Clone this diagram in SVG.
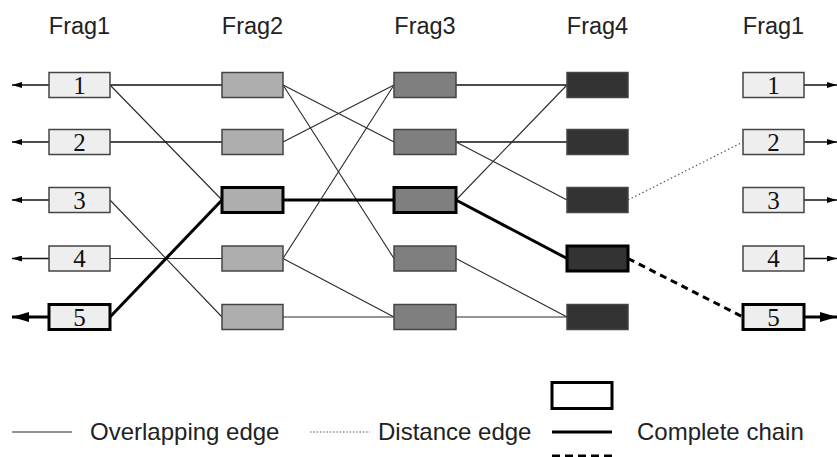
<svg xmlns="http://www.w3.org/2000/svg" width="837" height="457" viewBox="0 0 837 457">
<defs>
<style>
.hdr{font-family:"Liberation Sans",Arial,sans-serif;font-size:23.5px;fill:#222;text-anchor:middle}
.num{font-family:"Liberation Serif","Times New Roman",serif;font-size:25px;fill:#111;text-anchor:middle}
.leg{font-family:"Liberation Sans",Arial,sans-serif;font-size:24px;fill:#222}
.b{stroke:#444;stroke-width:1.5}
.f1{fill:#eeeeee}
.f2{fill:#aeaeae}
.f3{fill:#7f7f7f}
.f4{fill:#333333}
.hl{stroke:#000;stroke-width:3}
.e{stroke:#2a2a2a;stroke-width:1.1;fill:none}
.h{stroke:#111;stroke-width:1.3;fill:none}
.t{stroke:#000;stroke-width:3;fill:none}
.dot{stroke:#555;stroke-width:1.2;stroke-dasharray:1.5,2.5;fill:none}
.dash{stroke:#000;stroke-width:3;stroke-dasharray:7,5;fill:none}
</style>
<marker id="ah" markerWidth="10" markerHeight="6" refX="10" refY="3" orient="auto" markerUnits="userSpaceOnUse"><path d="M0,0 L10,3 L0,6 Z" fill="#000"/></marker>
<marker id="ahT" markerWidth="17" markerHeight="10" refX="17" refY="5" orient="auto" markerUnits="userSpaceOnUse"><path d="M0,0 L17,5 L0,10 Z" fill="#000"/></marker>
</defs>
<rect width="837" height="457" fill="#fff"/>

<g id="headers">
<text class="hdr" x="79.5" y="34">Frag1</text>
<text class="hdr" x="252.5" y="34">Frag2</text>
<text class="hdr" x="425" y="34">Frag3</text>
<text class="hdr" x="597.5" y="34">Frag4</text>
<text class="hdr" x="773.5" y="34">Frag1</text>
</g>

<g id="connectors">
<line class="h" x1="49" y1="85" x2="12" y2="85" marker-end="url(#ah)"/>
<line class="h" x1="49" y1="142" x2="12" y2="142" marker-end="url(#ah)"/>
<line class="h" x1="49" y1="200" x2="12" y2="200" marker-end="url(#ah)"/>
<line class="h" x1="49" y1="258.5" x2="12" y2="258.5" marker-end="url(#ah)"/>
<line class="t" x1="49" y1="317" x2="12" y2="317" marker-end="url(#ahT)"/>
<line class="h" x1="804" y1="85" x2="837" y2="85" marker-end="url(#ah)"/>
<line class="h" x1="804" y1="142" x2="837" y2="142" marker-end="url(#ah)"/>
<line class="h" x1="804" y1="200" x2="837" y2="200" marker-end="url(#ah)"/>
<line class="h" x1="804" y1="258.5" x2="837" y2="258.5" marker-end="url(#ah)"/>
<line class="t" x1="804" y1="317" x2="837" y2="317" marker-end="url(#ahT)"/>
<line class="h" x1="110" y1="85" x2="222" y2="85"/>
<line class="e" x1="110" y1="85" x2="222" y2="200"/>
<line class="h" x1="110" y1="142" x2="222" y2="142"/>
<line class="e" x1="110" y1="200" x2="222" y2="317"/>
<line class="e" x1="110" y1="258.5" x2="222" y2="258.5"/>
<line class="t" x1="110" y1="317" x2="222" y2="200"/>
<line class="e" x1="283" y1="85" x2="394" y2="142"/>
<line class="e" x1="283" y1="85" x2="394" y2="258.5"/>
<line class="e" x1="283" y1="142" x2="394" y2="85"/>
<line class="t" x1="283" y1="200" x2="394" y2="200"/>
<line class="e" x1="283" y1="258.5" x2="394" y2="85"/>
<line class="e" x1="283" y1="258.5" x2="394" y2="317"/>
<line class="e" x1="283" y1="317" x2="394" y2="317"/>
<line class="h" x1="456" y1="85" x2="567" y2="85"/>
<line class="h" x1="456" y1="142" x2="567" y2="142"/>
<line class="e" x1="456" y1="142" x2="567" y2="200"/>
<line class="e" x1="456" y1="200" x2="567" y2="85"/>
<line class="t" x1="456" y1="200" x2="567" y2="258.5"/>
<line class="e" x1="456" y1="258.5" x2="567" y2="317"/>
<line class="e" x1="456" y1="317" x2="567" y2="317"/>
<line class="dot" x1="628" y1="200" x2="743" y2="142"/>
<line class="dash" x1="628" y1="258.5" x2="743" y2="317"/>
</g>

<g id="frag1-left">
<g id="L1"><rect class="b f1" x="49" y="72.5" width="61" height="25"/><text class="num" x="79.5" y="93.5">1</text></g>
<g id="L2"><rect class="b f1" x="49" y="129.5" width="61" height="25"/><text class="num" x="79.5" y="150.5">2</text></g>
<g id="L3"><rect class="b f1" x="49" y="187.5" width="61" height="25"/><text class="num" x="79.5" y="208.5">3</text></g>
<g id="L4"><rect class="b f1" x="49" y="246" width="61" height="25"/><text class="num" x="79.5" y="267">4</text></g>
<g id="L5"><rect class="f1 hl" x="49" y="304.5" width="61" height="25"/><text class="num" x="79.5" y="325.5">5</text></g>
</g>

<g id="frag2">
<g id="F2-1"><rect class="b f2" x="222" y="72.5" width="61" height="25"/></g>
<g id="F2-2"><rect class="b f2" x="222" y="129.5" width="61" height="25"/></g>
<g id="F2-3"><rect class="f2 hl" x="222" y="187.5" width="61" height="25"/></g>
<g id="F2-4"><rect class="b f2" x="222" y="246" width="61" height="25"/></g>
<g id="F2-5"><rect class="b f2" x="222" y="304.5" width="61" height="25"/></g>
</g>

<g id="frag3">
<g id="F3-1"><rect class="b f3" x="394" y="72.5" width="62" height="25"/></g>
<g id="F3-2"><rect class="b f3" x="394" y="129.5" width="62" height="25"/></g>
<g id="F3-3"><rect class="f3 hl" x="394" y="187.5" width="62" height="25"/></g>
<g id="F3-4"><rect class="b f3" x="394" y="246" width="62" height="25"/></g>
<g id="F3-5"><rect class="b f3" x="394" y="304.5" width="62" height="25"/></g>
</g>

<g id="frag4">
<g id="F4-1"><rect class="b f4" x="567" y="72.5" width="61" height="25"/></g>
<g id="F4-2"><rect class="b f4" x="567" y="129.5" width="61" height="25"/></g>
<g id="F4-3"><rect class="b f4" x="567" y="187.5" width="61" height="25"/></g>
<g id="F4-4"><rect class="f4 hl" x="567" y="246" width="61" height="25"/></g>
<g id="F4-5"><rect class="b f4" x="567" y="304.5" width="61" height="25"/></g>
</g>

<g id="frag1-right">
<g id="R1"><rect class="b f1" x="743" y="72.5" width="61" height="25"/><text class="num" x="773.5" y="93.5">1</text></g>
<g id="R2"><rect class="b f1" x="743" y="129.5" width="61" height="25"/><text class="num" x="773.5" y="150.5">2</text></g>
<g id="R3"><rect class="b f1" x="743" y="187.5" width="61" height="25"/><text class="num" x="773.5" y="208.5">3</text></g>
<g id="R4"><rect class="b f1" x="743" y="246" width="61" height="25"/><text class="num" x="773.5" y="267">4</text></g>
<g id="R5"><rect class="f1 hl" x="743" y="304.5" width="61" height="25"/><text class="num" x="773.5" y="325.5">5</text></g>
</g>

<g id="legend">
<line class="e" x1="12" y1="432" x2="72" y2="432"/>
<text class="leg" x="90" y="440">Overlapping edge</text>
<line class="dot" x1="310" y1="432" x2="370" y2="432" style="stroke-dasharray:1.5,1.8"/>
<text class="leg" x="378" y="440">Distance edge</text>
<rect x="552" y="382.5" width="60" height="26" fill="#fff" stroke="#000" stroke-width="3"/>
<line class="t" x1="552" y1="432" x2="612" y2="432"/>
<line class="t" x1="552" y1="456" x2="612" y2="456" style="stroke-dasharray:8,5"/>
<text class="leg" x="637" y="440">Complete chain</text>
</g>
</svg>
